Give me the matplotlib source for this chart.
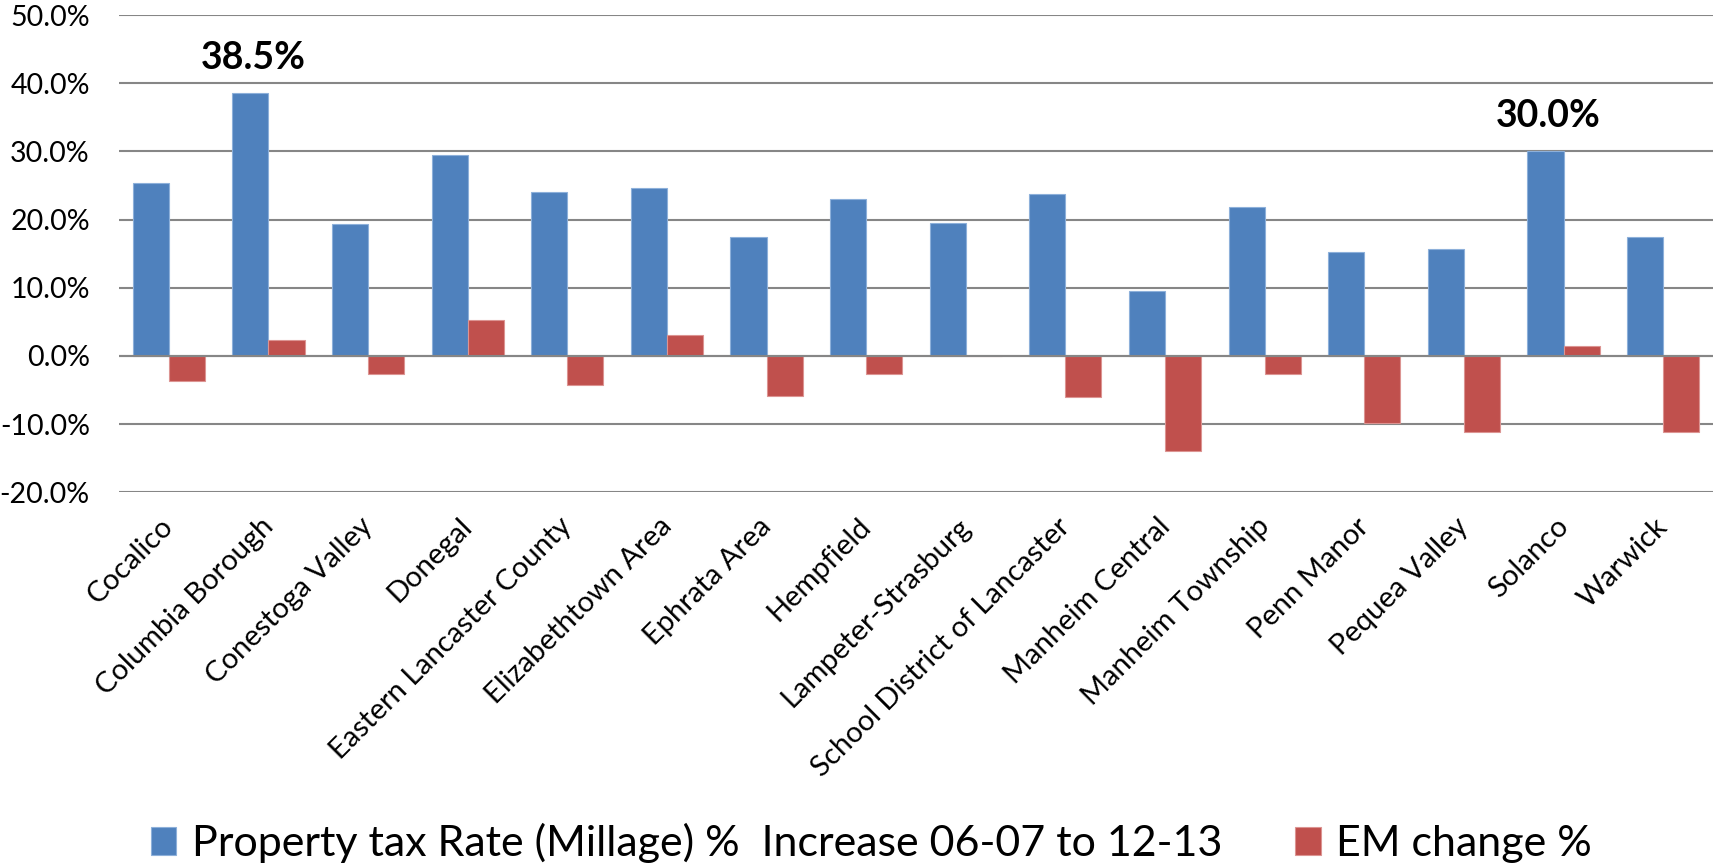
import numpy as np
import matplotlib
matplotlib.use("Agg")
import matplotlib.pyplot as plt
import matplotlib.transforms as mtransforms
from matplotlib.ticker import FuncFormatter

plt.rcParams['font.family'] = ['Lato', 'DejaVu Sans']

# Data per school district
districts = ['Cocalico', 'Columbia Borough', 'Conestoga Valley', 'Donegal',
             'Eastern Lancaster County', 'Elizabethtown Area', 'Ephrata Area',
             'Hempfield', 'Lampeter-Strasburg', 'School District of Lancaster',
             'Manheim Central', 'Manheim Township', 'Penn Manor', 'Pequea Valley',
             'Solanco', 'Warwick']
millage_increase = [25.4, 38.5, 19.4, 29.5, 24.1, 24.6, 17.4, 23.0,
                    19.5, 23.7, 9.5, 21.8, 15.2, 15.7, 30.0, 17.5]
em_change = [-3.7, 2.3, -2.7, 5.2, -4.2, 3.1, -5.9, -2.6,
             0.0, -6.0, -13.9, -2.6, -9.8, -11.2, 1.5, -11.2]
highlight = ['Columbia Borough', 'Solanco']

label_blue = 'Property tax Rate (Millage) %  Increase 06-07 to 12-13'
label_red = 'EM change %'

fig = plt.figure(figsize=(17.15, 8.68), dpi=100)
ax = fig.add_axes([0.0694, 0.4328, 0.9294, 0.5499])

x = np.arange(len(districts))
w = 0.362
ax.bar(x - w / 2, millage_increase, w, color='#4F81BD', edgecolor='#8DB0DA',
       linewidth=0.8, label=label_blue, zorder=2)
ax.bar(x + w / 2, em_change, w, color='#C0504D', edgecolor='#DC9492',
       linewidth=0.8, label=label_red, zorder=2)

# bold callouts over the two largest increases
for name in highlight:
    i = districts.index(name)
    v = millage_increase[i]
    ax.annotate(f'{v:.1f}%', (i - w / 2, v), xytext=(2, 13),
                textcoords='offset points', ha='center', va='bottom',
                fontsize=27, fontweight='bold')

ax.set_xlim(-0.5, len(districts) - 0.5)
ax.set_ylim(-20, 50)
ax.set_yticks(np.arange(-20, 51, 10))
ax.yaxis.set_major_formatter(FuncFormatter(lambda v, p: f'{v:.1f}%'))
ax.yaxis.grid(True, color='#868686', linewidth=1.5, zorder=0)
ax.axhline(0, color='#868686', linewidth=1.5, zorder=3)
ax.set_axisbelow(True)
for s in ax.spines.values():
    s.set_visible(False)

ax.set_xticks(x)
ax.set_xticklabels(districts, rotation=45, ha='right', fontsize=21)
ax.tick_params(axis='x', length=0, pad=15)
ax.tick_params(axis='y', length=0, pad=21, labelsize=20.5)

# nudge the slanted category names to the right
shift = mtransforms.ScaledTranslation(7 / 72, 0, fig.dpi_scale_trans)
for lbl in ax.get_xticklabels():
    lbl.set_transform(lbl.get_transform() + shift)

fig.legend(loc='center', bbox_to_anchor=(0.508, 0.029), ncol=2, frameon=False,
           fontsize=31, handlelength=0.6, handleheight=0.63, handletextpad=0.35,
           columnspacing=1.7, borderpad=0, borderaxespad=0)

fig.savefig('out.png', dpi=100)
